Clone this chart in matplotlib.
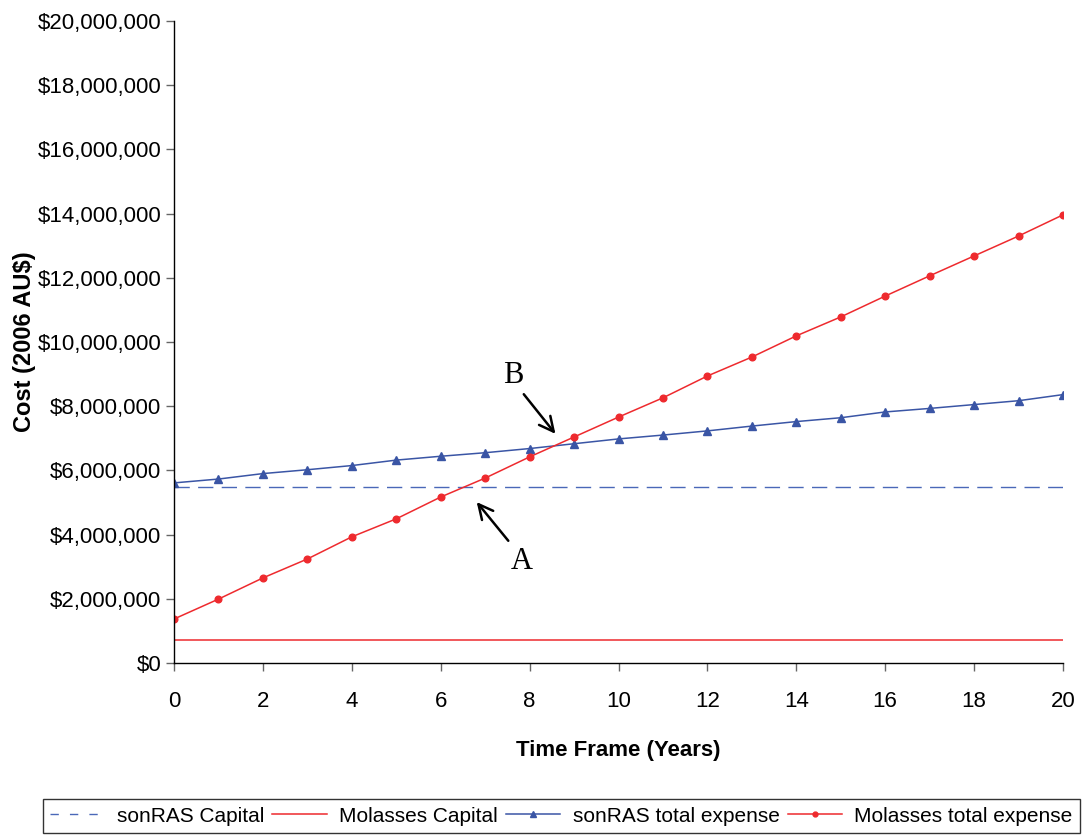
import matplotlib
matplotlib.use("Agg")
import matplotlib.pyplot as plt
from matplotlib.ticker import FuncFormatter, MultipleLocator
from matplotlib.lines import Line2D

years = list(range(0, 21))
molasses_total = [1.37, 1.99, 2.65, 3.24, 3.93, 4.49, 5.17, 5.76, 6.42, 7.04, 7.66,
                  8.26, 8.94, 9.53, 10.19, 10.78, 11.43, 12.06, 12.68, 13.30, 13.96]
sonras_total = [5.61, 5.73, 5.90, 6.02, 6.15, 6.32, 6.44, 6.55, 6.68, 6.83, 6.98,
                7.10, 7.23, 7.38, 7.52, 7.64, 7.82, 7.93, 8.05, 8.17, 8.36]
sonras_capital = 5.48
molasses_capital = 0.72
scale = 1e6

plt.rcParams['font.family'] = ['Liberation Sans', 'DejaVu Sans']

fig = plt.figure(figsize=(10.83, 8.39), dpi=100)
ax = fig.add_axes([0.1607, 0.2098, 0.9815 - 0.1607, 0.975 - 0.2098])

blue = '#3a55a5'
red = '#ee2a2e'

ax.plot(years, [sonras_capital * scale] * len(years), color='#4a68b8', lw=1.0,
        dashes=(11, 6), label='sonRAS Capital')
ax.plot(years, [molasses_capital * scale] * len(years), color=red, lw=1.1,
        label='Molasses Capital')
ax.plot(years, [v * scale for v in sonras_total], color=blue, lw=1.1, marker='^',
        markersize=6, label='sonRAS total expense')
ax.plot(years, [v * scale for v in molasses_total], color=red, lw=1.1, marker='o',
        markersize=4.8, label='Molasses total expense')

ax.set_xlim(0, 20)
ax.set_ylim(0, 20e6)
ax.xaxis.set_major_locator(MultipleLocator(2))
ax.yaxis.set_major_locator(MultipleLocator(2e6))
ax.yaxis.set_major_formatter(FuncFormatter(lambda v, p: '${:,.0f}'.format(v)))
for s in ['top', 'right']:
    ax.spines[s].set_visible(False)
for s in ['left', 'bottom']:
    ax.spines[s].set_color('black')
    ax.spines[s].set_linewidth(1.0)
ax.tick_params(axis='both', direction='out', length=6, width=1, color='#666666',
               labelsize=16, labelcolor='black')
ax.tick_params(axis='x', pad=14)
ax.tick_params(axis='y', pad=3)

ax.set_xlabel('Time Frame (Years)', fontsize=16, fontweight='bold', labelpad=20)
ax.set_ylabel('Cost (2006 AU$)', fontsize=17, fontweight='bold', labelpad=1)

# annotations
ax.annotate('', xy=(8.62, 7.07e6), xytext=(7.83, 8.44e6),
            arrowprops=dict(arrowstyle='->', color='black', lw=1.8, mutation_scale=26))
ax.text(7.63, 8.97e6, 'B', fontsize=22, family='Liberation Serif', ha='center', va='center')
ax.annotate('', xy=(6.77, 5.08e6), xytext=(7.56, 3.74e6),
            arrowprops=dict(arrowstyle='->', color='black', lw=1.8, mutation_scale=26))
ax.text(7.83, 3.15e6, 'A', fontsize=22, family='Liberation Serif', ha='center', va='center')

handles = [
    Line2D([], [], color='#4a68b8', lw=1.0, dashes=(6, 8)),
    Line2D([], [], color=red, lw=1.1),
    Line2D([], [], color=blue, lw=1.1, marker='^', markersize=5),
    Line2D([], [], color=red, lw=1.1, marker='o', markersize=3.5),
]
labels = ['sonRAS Capital', 'Molasses Capital', 'sonRAS total expense', 'Molasses total expense']
leg = fig.legend(handles, labels, loc='center', ncol=4,
                 bbox_to_anchor=(0.0397, 0.0024, 0.997 - 0.0397, 0.0524 - 0.0024),
                 mode='expand', fontsize=15, frameon=True, fancybox=False,
                 edgecolor='black', handlelength=2.6, handletextpad=0.6,
                 columnspacing=0.6, borderpad=0.35, borderaxespad=0)
leg.get_frame().set_linewidth(1.0)

fig.savefig('out.png', dpi=100)
